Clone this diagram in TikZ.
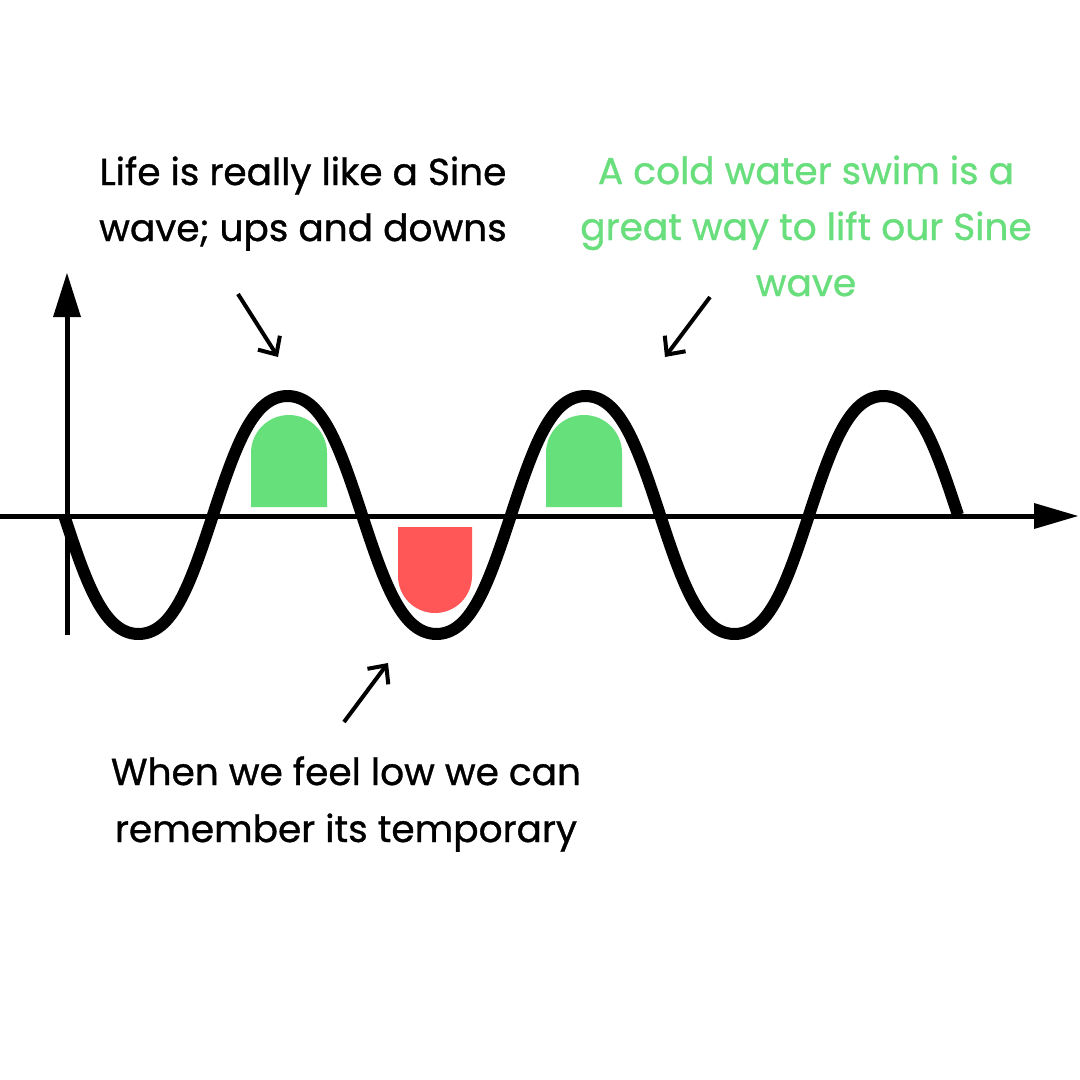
\documentclass[tikz,border=0pt]{standalone}
\usepackage{fontspec}
\setmainfont{Poppins}[FakeBold=0.9]
\usetikzlibrary{arrows.meta}
\definecolor{blobgreen}{RGB}{102,224,122}
\definecolor{txtgreen}{RGB}{104,222,124}
\definecolor{blobred}{RGB}{255,87,87}
\tikzset{
  txt/.style={anchor=base, inner sep=0pt, font=\fontsize{37.5}{40}\selectfont},
  axisline/.style={line width=5pt},
  pointer/.style={line width=4pt, -{Straight Barb[length=14pt,width=26pt,line width=4pt]}},
  wave/.style={line width=12pt},
}
\begin{document}
\begin{tikzpicture}[x=1pt,y=-1pt]
\fill[white] (0,0) rectangle (1080,1080);
\useasboundingbox (0,0) rectangle (1080,1080);

% blobs
\fill[blobgreen] (251,507) -- (251,453) arc[start angle=180,end angle=0,radius=38pt] -- (327,507) -- cycle;
\fill[blobgreen] (546,507) -- (546,453) arc[start angle=180,end angle=0,radius=38pt] -- (622,507) -- cycle;
\fill[blobred] (398,527) -- (398,576) arc[start angle=180,end angle=360,radius=37pt] -- (472,527) -- cycle;

% axes
\coordinate (yb) at (67,635);
\coordinate (yt) at (67,317);
\coordinate (xl) at (0,516);
\coordinate (xr) at (1036,516);
\draw[axisline] (yb) -- (yt);
\fill (53,317) -- (67,273) -- (81,317) -- cycle;
\draw[axisline] (xl) -- (xr);
\fill (1034,503) -- (1078,516) -- (1034,529) -- cycle;

% wave
\draw[wave] plot[domain=64:958, samples=400, smooth]
  (\x,{515+119/0.95*(sin((\x-64)/298*360)+0.05*sin(3*(\x-64)/298*360))});

% pointers
\coordinate (p1s) at (238,294);
\coordinate (p1e) at (278,357);
\coordinate (p2s) at (710,297);
\coordinate (p2e) at (665,357);
\coordinate (p3s) at (344,722);
\coordinate (p3e) at (388,663);
\draw[pointer] (p1s) -- (p1e);
\draw[pointer] (p2s) -- (p2e);
\draw[pointer] (p3s) -- (p3e);

% texts
\node[txt] (t1a) at (303,185) {Life is really like a Sine};
\node[txt] (t1b) at (303,241) {wave; ups and downs};
\node[txt,txtgreen] (t2a) at (806,184) {A cold water swim is a};
\node[txt,txtgreen] (t2b) at (806,240) {great way to lift our Sine};
\node[txt,txtgreen] (t2c) at (806,296) {wave};
\node[txt] (t3a) at (346,785) {When we feel low we can};
\node[txt] (t3b) at (346,842) {remember its temporary};
\end{tikzpicture}
\end{document}
